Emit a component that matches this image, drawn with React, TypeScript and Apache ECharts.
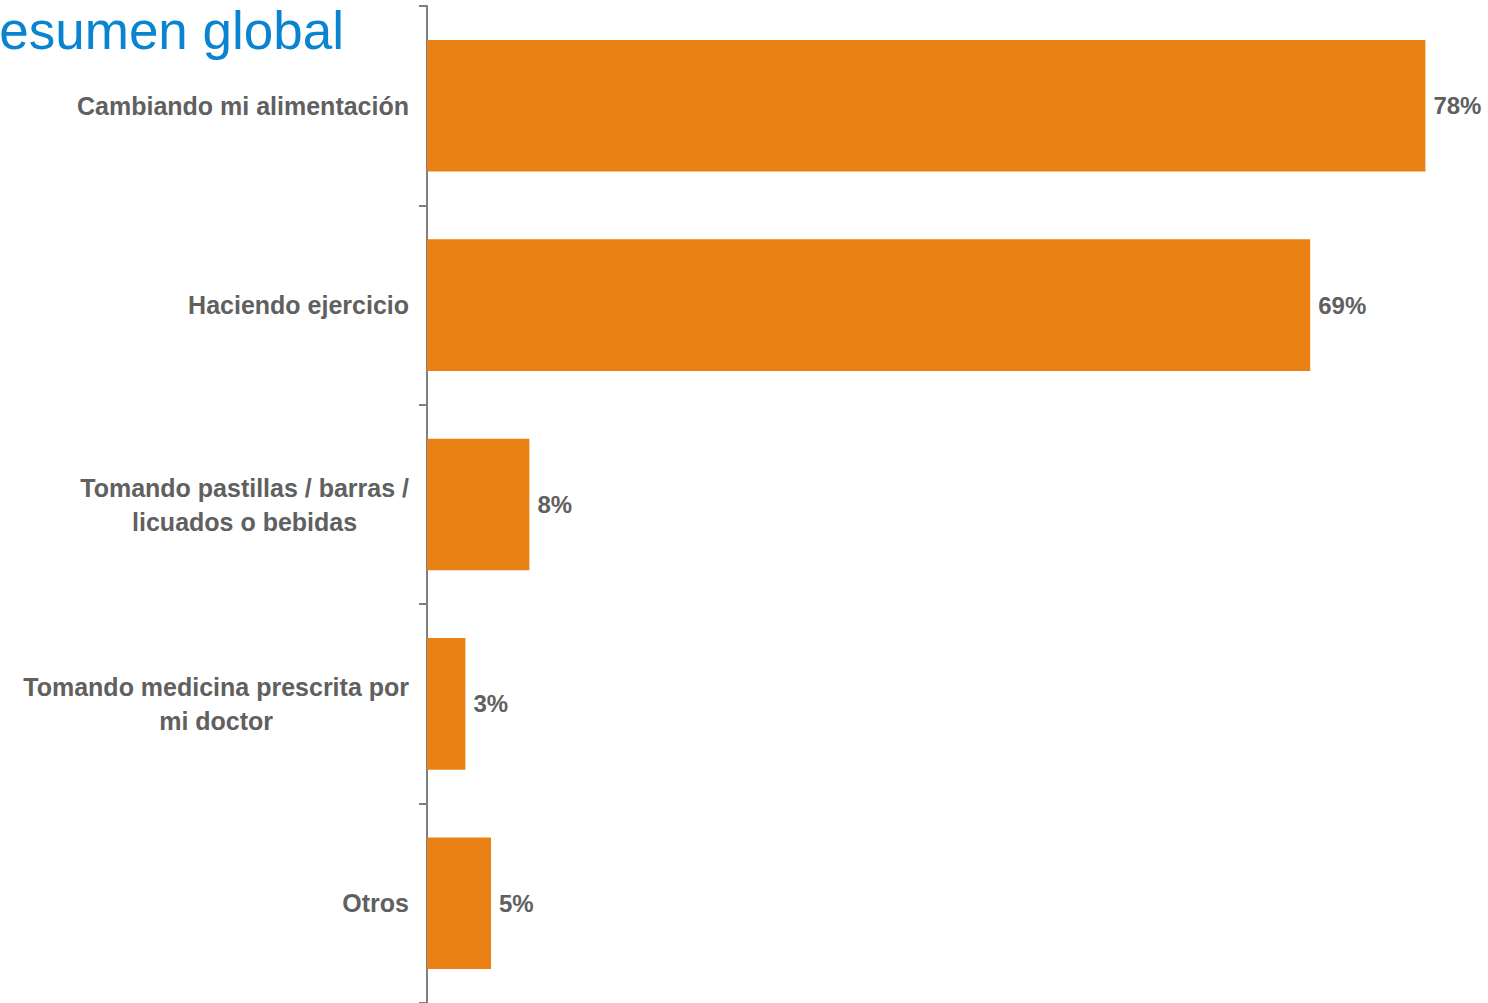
import React, { useEffect, useRef } from "react";
import * as echarts from "echarts";

const categories = [
  "Cambiando mi alimentación",
  "Haciendo ejercicio",
  "Tomando pastillas / barras /\nlicuados o bebidas",
  "Tomando medicina prescrita por\nmi doctor",
  "Otros",
];
const values = [78, 69, 8, 3, 5];
const titleText = "Resumen global";

const FONT = "'Liberation Sans', Arial, sans-serif";
const TEXT_COLOR = "#606060";

export default function App() {
  const ref = useRef<HTMLDivElement>(null);
  useEffect(() => {
    if (!ref.current) return;
    const chart = echarts.init(ref.current, null, { renderer: "svg" });
    chart.setOption({
      animation: false,
      backgroundColor: "#ffffff",
      graphic: [
        {
          type: "text",
          left: -39,
          top: 4,
          style: {
            text: titleText,
            fill: "#0A84D0",
            font: `53px ${FONT}`,
          },
        },
      ],
      grid: { left: 427, right: 37, top: 6, bottom: -2, containLabel: false },
      xAxis: {
        type: "value",
        min: 0,
        max: 80,
        show: false,
      },
      yAxis: {
        type: "category",
        inverse: true,
        data: categories,
        axisLine: { show: true, lineStyle: { color: "#7f7f7f", width: 2 } },
        axisTick: { show: true, length: 8, lineStyle: { color: "#7f7f7f", width: 2 } },
        axisLabel: {
          margin: 18,
          fontFamily: FONT,
          fontWeight: "bold",
          fontSize: 25,
          color: TEXT_COLOR,
          lineHeight: 34,
          formatter: (v: string) =>
            v
              .split("\n")
              .map((l) => `{a|${l}}`)
              .join("\n"),
          rich: {
            a: {
              align: "center",
              fontFamily: FONT,
              fontWeight: "bold",
              fontSize: 25,
              color: TEXT_COLOR,
              lineHeight: 34,
            },
          },
        },
      },
      series: [
        {
          type: "bar",
          data: values,
          barCategoryGap: "34%",
          itemStyle: { color: "#EA8115" },
          label: {
            show: true,
            position: "right",
            distance: 8,
            formatter: "{c}%",
            fontFamily: FONT,
            fontWeight: "bold",
            fontSize: 24,
            color: TEXT_COLOR,
          },
        },
      ],
    });
    return () => chart.dispose();
  }, []);
  return (
    <div
      ref={ref}
      style={{ position: "fixed", left: 0, top: 0, width: 1488, height: 1003 }}
    />
  );
}
